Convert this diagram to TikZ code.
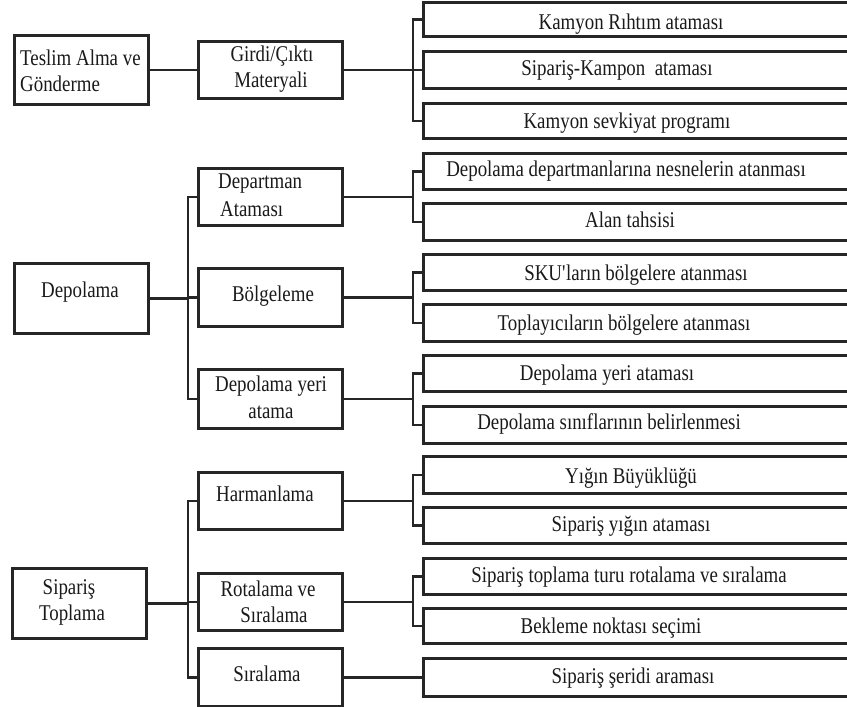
\documentclass[tikz,border=0pt]{standalone}
\usepackage{fontspec}
\setmainfont{Liberation Serif}[FakeStretch=0.84]
\usetikzlibrary{calc}
\definecolor{linec}{HTML}{262626}
\definecolor{textc}{HTML}{1A1A1A}
\tikzset{
  box/.style={draw=linec, line width=2.8pt, fill=white, rectangle, inner sep=0pt, anchor=north west},
  rbox/.style={box, minimum width=470pt},
  conn/.style={draw=linec, line width=2.4pt},
  lbl/.style={inner sep=0pt, text=textc, font=\fontsize{22.5}{26}\selectfont, anchor=base},
  lbll/.style={lbl, anchor=base west},
}
\begin{document}
\begin{tikzpicture}[x=1pt,y=-1pt]
\useasboundingbox (0,0) rectangle (847,707);
\clip (0,0) rectangle (847,707);
\fill[white] (0,0) rectangle (847,707);

% ---------- left level ----------
\node[box, minimum width=134pt, minimum height=69pt] (teslim) at (13,34) {};
\node[box, minimum width=134pt, minimum height=70pt] (depo) at (13,262) {};
\node[box, minimum width=134pt, minimum height=70pt] (sip) at (11,567) {};

% ---------- middle level ----------
\node[box, minimum width=144pt, minimum height=57pt] (girdi) at (197,40) {};
\node[box, minimum width=144pt, minimum height=57pt] (dept) at (197,167) {};
\node[box, minimum width=144pt, minimum height=58pt] (bolg) at (197,267) {};
\node[box, minimum width=144pt, minimum height=59pt] (yeri) at (197,368) {};
\node[box, minimum width=144pt, minimum height=57pt] (harm) at (197,471) {};
\node[box, minimum width=144pt, minimum height=57pt] (rota) at (197,572) {};
\node[box, minimum width=144pt, minimum height=58pt] (sira) at (197,647) {};

% ---------- right level ----------
\node[rbox, minimum height=34pt] (r1) at (422,1) {};
\node[rbox, minimum height=37pt] (r2) at (422,50) {};
\node[rbox, minimum height=35pt] (r3) at (422,102) {};
\node[rbox, minimum height=36pt] (r4) at (422,152) {};
\node[rbox, minimum height=37pt] (r5) at (422,202) {};
\node[rbox, minimum height=36pt] (r6) at (422,253) {};
\node[rbox, minimum height=37pt] (r7) at (422,303) {};
\node[rbox, minimum height=36pt] (r8) at (422,354) {};
\node[rbox, minimum height=37pt] (r9) at (422,405) {};
\node[rbox, minimum height=37pt] (r10) at (422,455) {};
\node[rbox, minimum height=36pt] (r11) at (422,506) {};
\node[rbox, minimum height=36pt] (r12) at (422,557) {};
\node[rbox, minimum height=35pt] (r13) at (422,607) {};
\node[rbox, minimum height=38pt] (r14) at (422,657) {};

% ---------- junctions ----------
\coordinate (j0) at (413,68.5);
\coordinate (jA) at (188,297);
\coordinate (j1) at (413,195.5);
\coordinate (j2) at (413,296);
\coordinate (j3) at (413,397.5);
\coordinate (jB) at (188,602);
\coordinate (j4) at (413,499.5);
\coordinate (j5) at (413,600.5);

% ---------- connectors ----------
\draw[conn] (teslim.east) -- (girdi.west);
\draw[conn] (girdi.east) -- (girdi.east -| j0);
\draw[conn] (r1.west) -| (j0) |- (r3.west);
\draw[conn] (j0 |- r2.west) -- (r2.west);

\draw[conn] (depo.east) -- (depo.east -| jA);
\draw[conn] (dept.west) -| (jA) |- (yeri.west);
\draw[conn] (jA |- bolg.west) -- (bolg.west);
\draw[conn] (dept.east) -- (dept.east -| j1);
\draw[conn] (r4.west) -| (j1) |- (r5.west);
\draw[conn] (bolg.east) -- (bolg.east -| j2);
\draw[conn] (r6.west) -| (j2) |- (r7.west);
\draw[conn] (yeri.east) -- (yeri.east -| j3);
\draw[conn] (r8.west) -| (j3) |- (r9.west);

\draw[conn] (sip.east) -- (sip.east -| jB);
\draw[conn] (harm.west) -| (jB) |- (sira.west);
\draw[conn] (jB |- rota.west) -- (rota.west);
\draw[conn] (harm.east) -- (harm.east -| j4);
\draw[conn] (r10.west) -| (j4) |- (r11.west);
\draw[conn] (rota.east) -- (rota.east -| j5);
\draw[conn] (r12.west) -| (j5) |- (r13.west);
\draw[conn] (sira.east) -- (r14.west);

% ---------- texts ----------
\node[lbll] (t1a) at (20,65) {Teslim Alma ve};
\node[lbll] (t1b) at (20,91.7) {Gönderme};
\node[lbl] (t2a) at (272,61.7) {Girdi/Çıktı};
\node[lbl] (t2b) at (271,87.3) {Materyali};
\node[lbl] (t3) at (80,297.3) {Depolama};
\node[lbll] (t4a) at (218,188.3) {Departman};
\node[lbll] (t4b) at (220,216.7) {Ataması};
\node[lbl] (t5) at (273,301.7) {Bölgeleme};
\node[lbl] (t6a) at (271,391.7) {Depolama yeri};
\node[lbl] (t6b) at (271,418.3) {atama};
\node[lbl] (t7a) at (69,594) {Sipariş};
\node[lbl] (t7b) at (72,620) {Toplama};
\node[lbl] (t8) at (265,501.7) {Harmanlama};
\node[lbl] (t9a) at (268,596) {Rotalama ve};
\node[lbl] (t9b) at (274,622.7) {Sıralama};
\node[lbl] (t10) at (267,681.7) {Sıralama};

\node[lbl] (s1) at (631,29.5) {Kamyon Rıhtım ataması};
\node[lbl] (s2) at (617,75) {Sipariş-Kampon~ ataması};
\node[lbl] (s3) at (627,128) {Kamyon sevkiyat programı};
\node[lbl] (s4) at (626,176) {Depolama departmanlarına nesnelerin atanması};
\node[lbl] (s5) at (630,227) {Alan tahsisi};
\node[lbl] (s6) at (636,280) {SKU\textquotesingle ların bölgelere atanması};
\node[lbl] (s7) at (624,330) {Toplayıcıların bölgelere atanması};
\node[lbl] (s8) at (607,380) {Depolama yeri ataması};
\node[lbl] (s9) at (609,429) {Depolama sınıflarının belirlenmesi};
\node[lbl] (s10) at (631,483) {Yığın Büyüklüğü};
\node[lbl] (s11) at (631,531) {Sipariş yığın ataması};
\node[lbl] (s12) at (629,582) {Sipariş toplama turu rotalama ve sıralama};
\node[lbl] (s13) at (611,633) {Bekleme noktası seçimi};
\node[lbl] (s14) at (633,683) {Sipariş şeridi araması};
\end{tikzpicture}
\end{document}
